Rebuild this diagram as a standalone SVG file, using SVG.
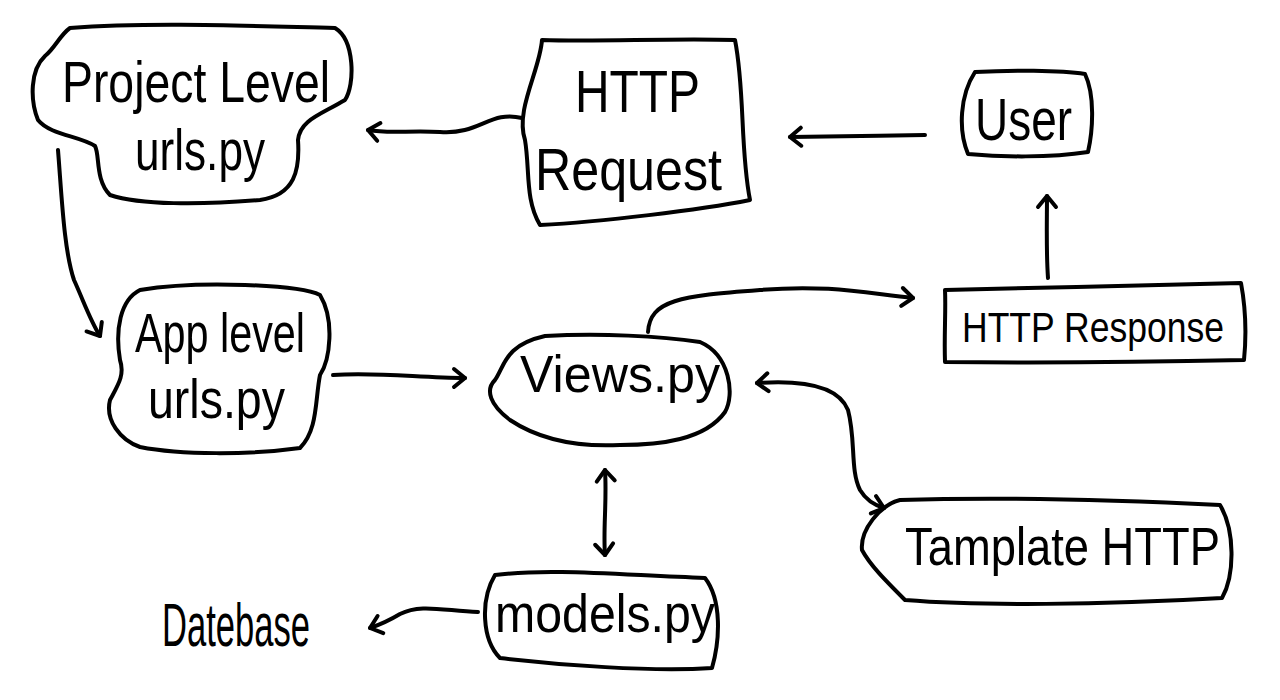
<svg xmlns="http://www.w3.org/2000/svg" width="1280" height="700" viewBox="0 0 1280 700">
<defs>
<style>
.shape{fill:none;stroke:#000;stroke-width:4;stroke-linecap:round;stroke-linejoin:round}
.conn{fill:none;stroke:#000;stroke-width:4;stroke-linecap:round;stroke-linejoin:round}
.lbl{font-family:"Liberation Sans","DejaVu Sans",sans-serif;fill:#000;font-weight:normal}
</style>
<marker id="ah" viewBox="0 0 24 24" refX="14" refY="12" markerWidth="24" markerHeight="24" markerUnits="userSpaceOnUse" orient="auto-start-reverse">
<path d="M3 3 L14 12 L3 21" fill="none" stroke="#000" stroke-width="4" stroke-linecap="round" stroke-linejoin="round"/>
</marker>
</defs>
<rect width="1280" height="700" fill="#fff"/>
<g id="connectors">
<path class="conn" d="M925 135 C880 136,830 136,790 137" marker-end="url(#ah)"/>
<path class="conn" d="M522 118 C490 110,480 135,440 132 C410 130,390 134,368 130" marker-end="url(#ah)"/>
<path class="conn" d="M58 150 C62 200,64 250,74 280 C84 302,90 320,100 336" marker-end="url(#ah)"/>
<path class="conn" d="M333 375 C380 372,420 378,465 378" marker-end="url(#ah)"/>
<path class="conn" d="M648 332 C650 300,680 296,760 290 C830 284,870 294,913 298" marker-end="url(#ah)"/>
<path class="conn" d="M1048 278 C1046 250,1047 220,1047 196" marker-end="url(#ah)"/>
<path class="conn" d="M757 383 C800 380,838 385,848 410 C856 440,850 470,860 490 C866 500,874 505,884 508" marker-start="url(#ah)" marker-end="url(#ah)"/>
<path class="conn" d="M605 470 C607 500,603 530,605 555" marker-start="url(#ah)" marker-end="url(#ah)"/>
<path class="conn" d="M478 612 C440 610,420 604,400 614 C390 620,382 624,370 628" marker-end="url(#ah)"/>
</g>
<g id="project-urls">
<path class="shape" d="M70 28 C150 22,250 26,335 28 C355 40,355 85,345 100 C320 115,300 120,298 140 C300 170,295 195,260 200 C200 205,140 205,110 195 C95 180,100 155,95 146 C80 136,50 135,38 120 C30 100,30 70,45 56 C55 48,60 35,70 28 Z"/>
<text class="lbl" x="62" y="102" font-size="58" textLength="268" lengthAdjust="spacingAndGlyphs">Project Level</text>
<text class="lbl" x="135" y="170" font-size="58" textLength="130" lengthAdjust="spacingAndGlyphs">urls.py</text>
</g>
<g id="http-request">
<path class="shape" d="M542 40 C600 42,670 38,735 40 C745 90,740 150,750 200 C700 210,600 222,540 225 C525 200,530 170,525 140 C515 110,540 70,542 40 Z"/>
<text class="lbl" x="575" y="112" font-size="60" textLength="125" lengthAdjust="spacingAndGlyphs">HTTP</text>
<text class="lbl" x="535" y="190" font-size="60" textLength="187" lengthAdjust="spacingAndGlyphs">Request</text>
</g>
<g id="user">
<path class="shape" d="M975 72 C1010 70,1060 70,1085 74 C1095 95,1093 130,1088 152 C1050 158,1000 157,968 154 C958 130,960 95,975 72 Z"/>
<text class="lbl" x="975" y="140" font-size="60" textLength="97" lengthAdjust="spacingAndGlyphs">User</text>
</g>
<g id="app-urls">
<path class="shape" d="M140 290 C200 280,300 285,320 295 C335 320,330 360,320 375 C315 400,318 430,300 448 C250 455,180 455,140 447 C120 440,105 420,110 400 C118 385,125 375,120 360 C115 330,120 300,140 290 Z"/>
<text class="lbl" x="135" y="352" font-size="56" textLength="170" lengthAdjust="spacingAndGlyphs">App level</text>
<text class="lbl" x="148" y="418" font-size="56" textLength="137" lengthAdjust="spacingAndGlyphs">urls.py</text>
</g>
<g id="views">
<path class="shape" d="M545 336 C600 333,660 336,700 342 C730 355,735 395,725 412 C705 440,660 445,620 445 C580 447,540 440,510 420 C490 405,485 390,495 380 C505 365,505 345,545 336 Z"/>
<text class="lbl" x="520" y="392" font-size="52" textLength="200" lengthAdjust="spacingAndGlyphs">Views.py</text>
</g>
<g id="http-response">
<path class="shape" d="M945 290 C1040 288,1150 285,1241 283 C1246 310,1246 340,1244 360 C1150 362,1040 363,945 362 C944 335,946 310,945 290 Z"/>
<text class="lbl" x="962" y="342" font-size="42" textLength="262" lengthAdjust="spacingAndGlyphs">HTTP Response</text>
</g>
<g id="template-http">
<path class="shape" d="M900 500 C1000 497,1120 500,1220 505 C1235 530,1235 575,1222 598 C1100 605,980 606,905 600 C885 580,870 565,862 550 C860 530,880 505,900 500 Z"/>
<text class="lbl" x="905" y="565" font-size="54" textLength="315" lengthAdjust="spacingAndGlyphs">Tamplate HTTP</text>
</g>
<g id="models">
<path class="shape" d="M495 575 C550 568,620 575,705 578 C722 600,720 640,712 668 C650 672,560 665,500 658 C482 640,480 600,495 575 Z"/>
<text class="lbl" x="495" y="632" font-size="54" textLength="220" lengthAdjust="spacingAndGlyphs">models.py</text>
</g>
<g id="database">
<text class="lbl" x="162" y="646" font-size="62" textLength="148" lengthAdjust="spacingAndGlyphs">Datebase</text>
</g>
</svg>
